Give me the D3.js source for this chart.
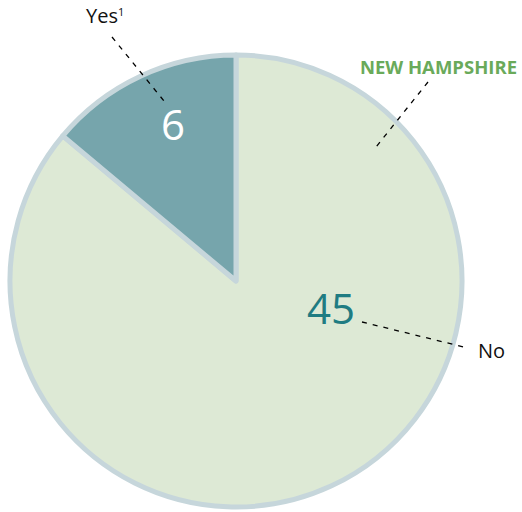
<!DOCTYPE html>
<html><head><meta charset="utf-8">
<script src="https://cdn.jsdelivr.net/npm/d3@7"></script>
<style>body{margin:0;background:#fff}svg{display:block}</style>
</head><body>
<script>
// Data
const categories = ["No", "Yes"];
const counts = [45, 6];               // numbers printed on the slices
const sliceShares = [86.1, 13.9];     // slice sizes as drawn in the picture (%)
const title = "NEW HAMPSHIRE";

const W = 522, H = 512;
const cx = 236, cy = 281, R = 226;
const colors = {No: "#dde9d5", Yes: "#76a5ac"};

const svg = d3.select("body").append("svg").attr("width", W).attr("height", H);
const font = "'Open Sans', 'Noto Sans', sans-serif";

const data = categories.map((c, i) => ({cat: c, count: counts[i], share: sliceShares[i]}));
const pie = d3.pie().sort(null).value(d => d.share);
const arcs = pie(data);
const arc = d3.arc().innerRadius(0).outerRadius(R);

const g = svg.append("g").attr("transform", `translate(${cx},${cy})`);
g.selectAll("path").data(arcs).enter().append("path")
  .attr("d", arc)
  .attr("fill", d => colors[d.data.cat])
  .attr("stroke", "#c6d6db")
  .attr("stroke-width", 5)
  .attr("stroke-linejoin", "round");

// value labels
const valPos = {No: [331, 324], Yes: [173, 140]};
const valCol = {No: "#1f7c82", Yes: "#ffffff"};
arcs.forEach(a => {
  const p = valPos[a.data.cat];
  svg.append("text").attr("x", p[0]).attr("y", p[1])
    .attr("text-anchor", "middle")
    .attr("font-family", font).attr("font-size", 42)
    .attr("fill", valCol[a.data.cat])
    .text(a.data.count);
});

// leader lines
const dash = "5,6";
const lines = [
  [112, 37, 164, 101],
  [428, 82, 376, 147],
  [362, 322, 468, 348]
];
lines.forEach(l => svg.append("line")
  .attr("x1", l[0]).attr("y1", l[1]).attr("x2", l[2]).attr("y2", l[3])
  .attr("stroke", "#000").attr("stroke-width", 1.3).attr("stroke-dasharray", dash));

// category labels
const yes = svg.append("text").attr("x", 86).attr("y", 23)
  .attr("font-family", font).attr("font-size", 20).attr("fill", "#111");
yes.append("tspan").text(categories[1]);
yes.append("tspan").attr("dy", -7).attr("font-size", 11).text("1");

svg.append("text").attr("x", 478).attr("y", 358)
  .attr("font-family", font).attr("font-size", 20).attr("fill", "#111")
  .text(categories[0]);

svg.append("text").attr("x", 517).attr("y", 74)
  .attr("text-anchor", "end")
  .attr("font-family", font).attr("font-size", 18.5).attr("font-weight", "bold")
  .attr("fill", "#6aaa5a")
  .text(title);
</script>
</body></html>
